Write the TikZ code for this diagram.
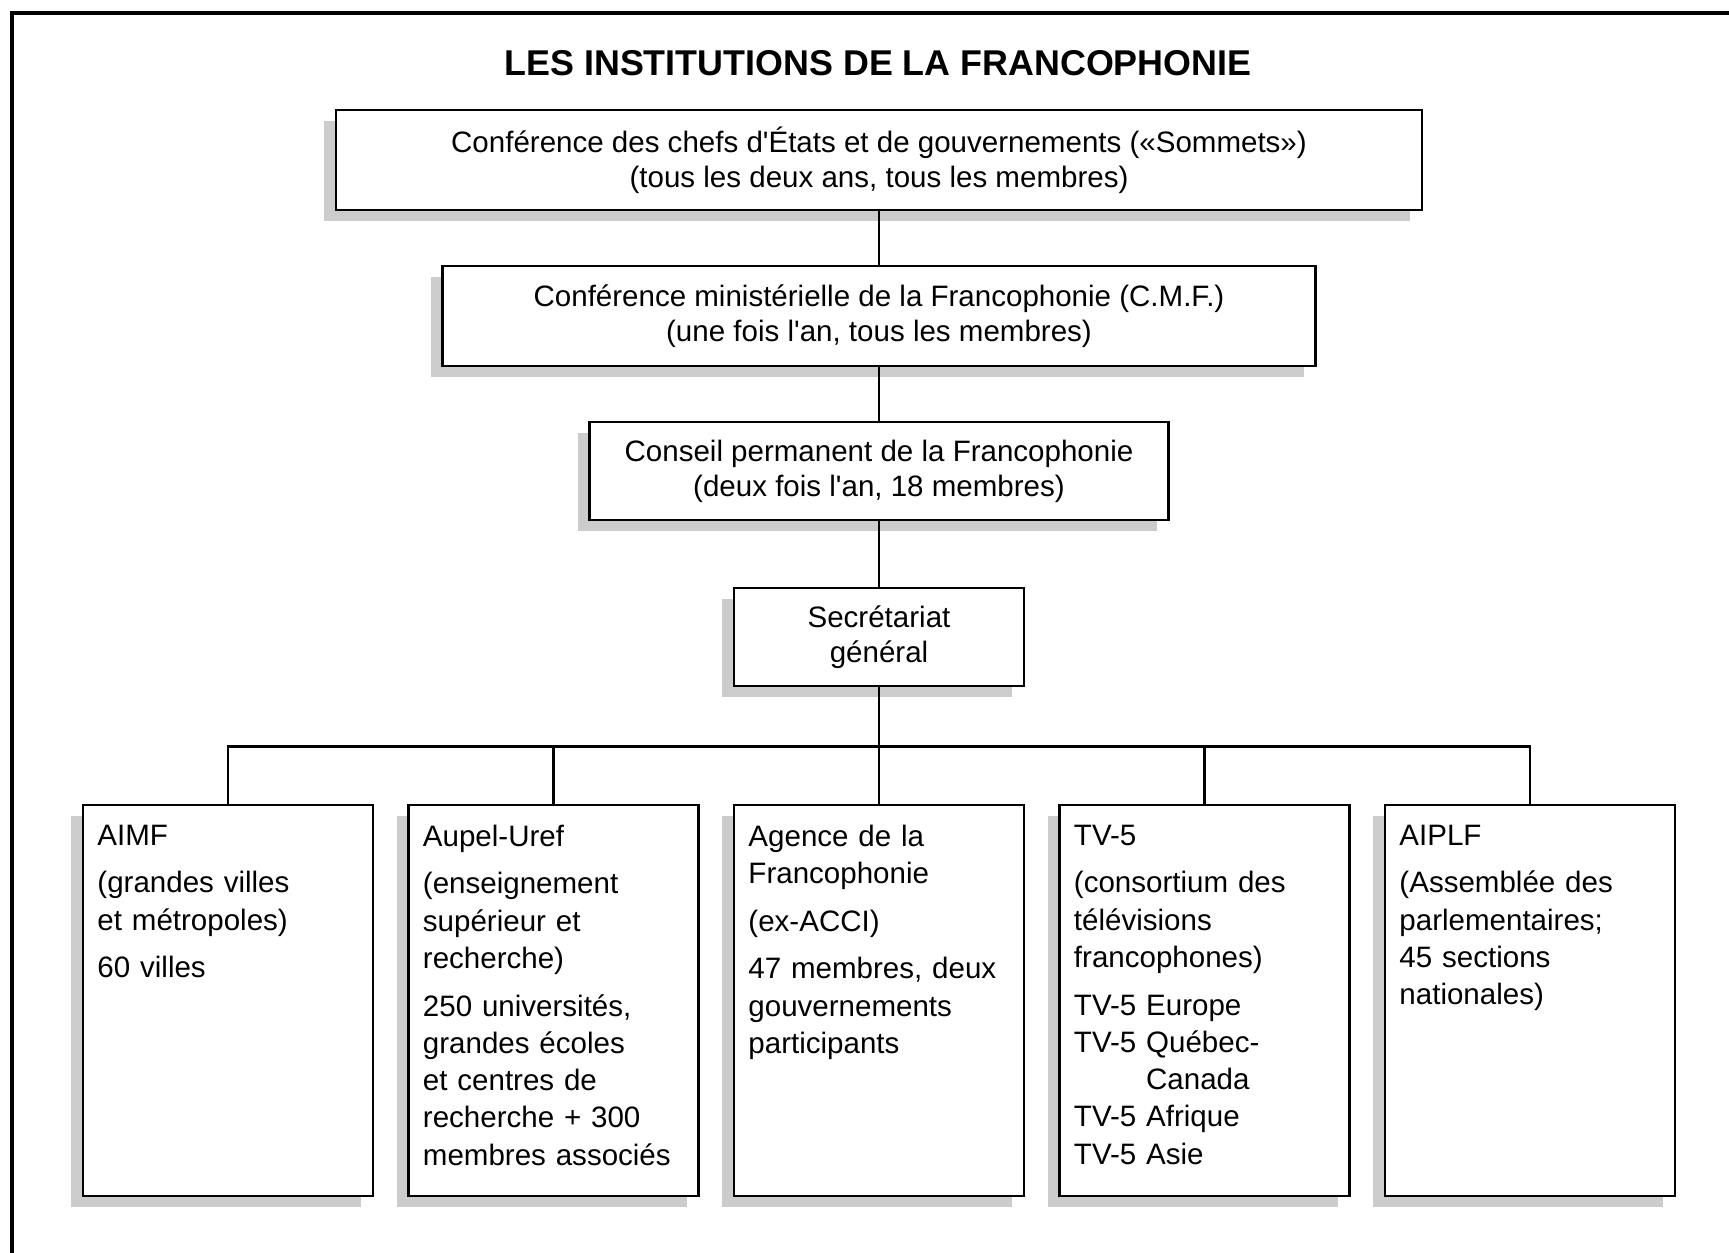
\documentclass[tikz,border=0pt]{standalone}
\usepackage{fontspec}
\setmainfont{Liberation Sans}[Ligatures=TeXOff]
\usepackage{tikz}
\usetikzlibrary{positioning,calc,shadows}
\definecolor{shadowgray}{RGB}{204,204,204}

\tikzset{
  box/.style={draw=black,fill=white,line width=0.7pt,align=center,
    inner sep=0pt,
    drop shadow={shadow xshift=-0.12cm,shadow yshift=-0.11cm,
      opacity=1,fill=shadowgray}},
  topbox/.style={box,font=\fontsize{8.4}{10}\selectfont},
  leafbox/.style={box,anchor=north,minimum width=2.90cm,minimum height=3.91cm},
  leaftext/.style={anchor=north west,inner sep=0pt,align=left,
    text width=2.65cm,font=\fontsize{8.4}{10.6}\selectfont},
  link/.style={line width=0.6pt}
}

\begin{document}
\begin{tikzpicture}
  \useasboundingbox (0,0) rectangle (17.29,-12.53);
  \draw[line width=0.9pt] (0.12,-12.53) -- (0.12,-0.13) -- (17.29,-0.13);

  \node[font=\fontsize{10.2}{12}\selectfont\bfseries] (title) at (8.78,-0.63)
    {LES INSTITUTIONS DE LA FRANCOPHONIE};

  \node[topbox,minimum width=10.86cm,minimum height=1.00cm] (sommets) at (8.79,-1.60)
    {Conférence des chefs d'États et de gouvernements («Sommets»)\\
     (tous les deux ans, tous les membres)};
  \node[topbox,minimum width=8.73cm,minimum height=1.00cm] (cmf) at (8.79,-3.16)
    {Conférence ministérielle de la Francophonie (C.M.F.)\\
     (une fois l'an, tous les membres)};
  \node[topbox,minimum width=5.79cm,minimum height=0.98cm] (conseil) at (8.79,-4.71)
    {Conseil permanent de la Francophonie\\
     (deux fois l'an, 18 membres)};
  \node[topbox,minimum width=2.90cm,minimum height=0.98cm] (secr) at (8.79,-6.37)
    {Secrétariat\\ général};

  \coordinate (bus) at (8.79,-7.465);

  \foreach \n/\i in {aimf/0,aupel/1,agence/2,tvcinq/3,aiplf/4}{
    \node[leafbox] (\n) at (2.28+\i*3.255,-8.04) {};
  }

  \node[leaftext] (aimftxt) at ([xshift=0.15cm,yshift=-0.2cm]aimf.north west)
    {AIMF\\[3pt]
     (grandes villes\\ et métropoles)\\[3pt]
     60 villes};
  \node[leaftext] (aupeltxt) at ([xshift=0.15cm,yshift=-0.2cm]aupel.north west)
    {Aupel-Uref\\[3pt]
     (enseignement\\ supérieur et\\ recherche)\\[3pt]
     250 universités,\\ grandes écoles\\ et centres de\\ recherche + 300\\
     membres associés};
  \node[leaftext] (agencetxt) at ([xshift=0.15cm,yshift=-0.2cm]agence.north west)
    {Agence de la\\ Francophonie\\[3pt]
     (ex-ACCI)\\[3pt]
     47 membres, deux\\ gouvernements\\ participants};
  \node[leaftext] (tvcinqtxt) at ([xshift=0.15cm,yshift=-0.2cm]tvcinq.north west)
    {TV-5\\[3pt]
     (consortium des\\ télévisions\\ francophones)\\[3pt]
     TV-5 Europe\\ TV-5 Québec-\\ \phantom{TV-5 }Canada\\ TV-5 Afrique\\ TV-5 Asie};
  \node[leaftext] (aipltxt) at ([xshift=0.15cm,yshift=-0.2cm]aiplf.north west)
    {AIPLF\\[3pt]
     (Assemblée des\\ parlementaires;\\ 45 sections\\ nationales)};

  % liens hierarchiques
  \draw[link] (sommets) -- (cmf);
  \draw[link] (cmf) -- (conseil);
  \draw[link] (conseil) -- (secr);
  \draw[link] (secr) -- (bus);
  \draw[link] (aimf.north) |- (bus) -| (aiplf.north);
  \foreach \n in {aupel,agence,tvcinq}
    \draw[link] (\n.north) -- (\n.north |- bus);
\end{tikzpicture}
\end{document}
